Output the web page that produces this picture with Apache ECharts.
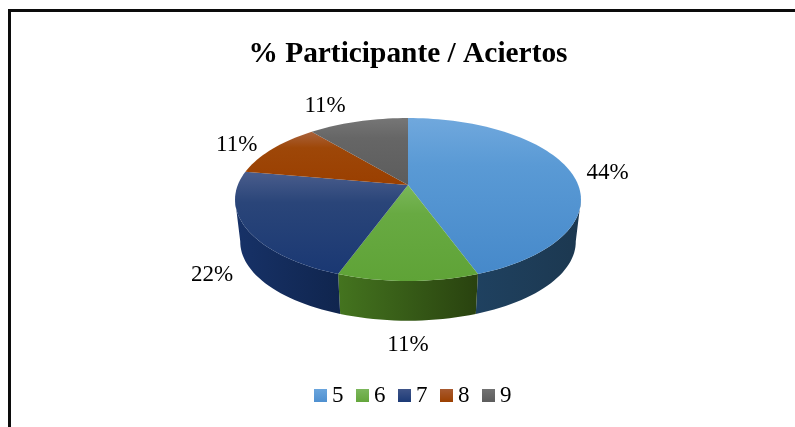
<!DOCTYPE html>
<html>
<head>
<meta charset="utf-8">
<style>html,body{margin:0;padding:0;background:#fff}#c{width:795px;height:427px}</style>
<script src="https://cdn.jsdelivr.net/npm/echarts@6/dist/echarts.min.js"></script>
</head>
<body>
<div id="c"></div>
<script>
const titleText = '% Participante / Aciertos';
const categories = ['5', '6', '7', '8', '9'];
const percents = [44, 11, 22, 11, 11];

const topColors = [
  ['#70a8dd', '#5a9ad5', '#4689ca'],
  ['#7ab75a', '#68aa42', '#5fa337'],
  ['#4a5d8c', '#2a4579', '#1a3873'],
  ['#a9623c', '#9e4708', '#9a3f00'],
  ['#767676', '#666666', '#5c5c5c']
];
const wallColors = [['#1f4160', '#1c3850'], ['#44741f', '#29420f'], ['#173268', '#10254e'], ['#7a3000', '#7a3000'], ['#444', '#444']];
const legendColors = [['#6aa5dd', '#4f90d0'], ['#7cb75c', '#64a63c'], ['#3f5489', '#1c3a76'], ['#a85a30', '#9c4000'], ['#727272', '#5c5c5c']];
const labelOffsets = [[37, 1], [0, 64], [-34, 47], [-36, -4], [-33, -16]];

// Projected pie geometry
const cx = 408, cy = 185, D = 170.2, A = 78.9, C = 0.178;
const wallScale = 0.97, wallDrop = 42.6;
const FRONT_FROM = 100, FRONT_TO = 260;

function project(deg) {
  const r = deg * Math.PI / 180, u = Math.sin(r), v = Math.cos(r), d = 1 + C * v;
  return [D * u / d, -A * v / d];
}
function topPt(deg) { const p = project(deg); return [cx + p[0], cy + p[1]]; }
function botPt(deg) {
  const p = project(deg);
  return [cx + p[0] * wallScale, cy + p[1] * wallScale + wallDrop];
}
function arc(fn, a, b) {
  const pts = [], n = Math.max(2, Math.ceil(Math.abs(b - a) / 2));
  for (let i = 0; i <= n; i++) pts.push(fn(a + (b - a) * i / n));
  return pts;
}
function grad(x2, y2, c) {
  const stops = c.length === 3
    ? [{ offset: 0, color: c[0] }, { offset: 0.3, color: c[1] }, { offset: 1, color: c[2] }]
    : [{ offset: 0, color: c[0] }, { offset: 1, color: c[1] }];
  return { type: 'linear', x: 0, y: 0, x2: x2, y2: y2, colorStops: stops };
}

const total = percents.reduce((s, v) => s + v, 0);
let acc = 0;
const spans = percents.map(v => { const s = acc; acc += v; return [s / total * 360, acc / total * 360]; });

function renderSlice(index) {
  return function (params, api) {
    const a = api.value(0), b = api.value(1), children = [];
    const wa = Math.max(a, FRONT_FROM), wb = Math.min(b, FRONT_TO);
    if (wb > wa) {
      children.push({
        type: 'polygon', z2: 1, silent: true,
        shape: { points: arc(topPt, wa, wb).concat(arc(botPt, wb, wa)) },
        style: { fill: grad(1, 0, wallColors[index]) }
      });
    }
    const topPoints = [[cx, cy]].concat(arc(topPt, a, b));
    children.push({
      type: 'polygon', z2: 2, silent: true,
      shape: { points: topPoints },
      style: { fill: grad(0, 1, topColors[index]) }
    });
    const mid = topPt((a + b) / 2), off = labelOffsets[index];
    children.push({
      type: 'text', z2: 3, silent: true,
      style: {
        x: mid[0] + off[0], y: mid[1] + off[1],
        text: api.value(2) + '%', align: 'center', verticalAlign: 'middle',
        fill: '#000', font: '23px "Liberation Serif"'
      }
    });
    return { type: 'group', children: children };
  };
}

const option = {
  animation: false,
  backgroundColor: '#fff',
  title: {
    text: titleText, left: 403, top: 35, textAlign: 'center',
    textStyle: { fontFamily: 'Liberation Serif', fontWeight: 'bold', fontSize: 29.4, color: '#000' }
  },
  legend: {
    left: 309, top: 379, itemWidth: 13, itemHeight: 13, itemGap: 12.5, icon: 'rect',
    selectedMode: false,
    textStyle: { fontFamily: 'Liberation Serif', fontSize: 23, color: '#000' },
    data: categories.map((name, i) => ({ name, itemStyle: { color: grad(0, 1, legendColors[i]) } }))
  },
  graphic: [
    { type: 'rect', silent: true, shape: { x: 8, y: 9, width: 787, height: 3 }, style: { fill: '#0c0c0c' } },
    { type: 'rect', silent: true, shape: { x: 8, y: 9, width: 3, height: 418 }, style: { fill: '#0c0c0c' } }
  ],
  series: categories.map((name, i) => ({
    type: 'custom', name, coordinateSystem: 'none',
    itemStyle: { color: topColors[i][1] },
    renderItem: renderSlice(i),
    data: [[spans[i][0], spans[i][1], percents[i]]]
  }))
};
const chart = echarts.init(document.getElementById('c'), null, { renderer: 'canvas' });
chart.setOption(option);
</script>
</body>
</html>
